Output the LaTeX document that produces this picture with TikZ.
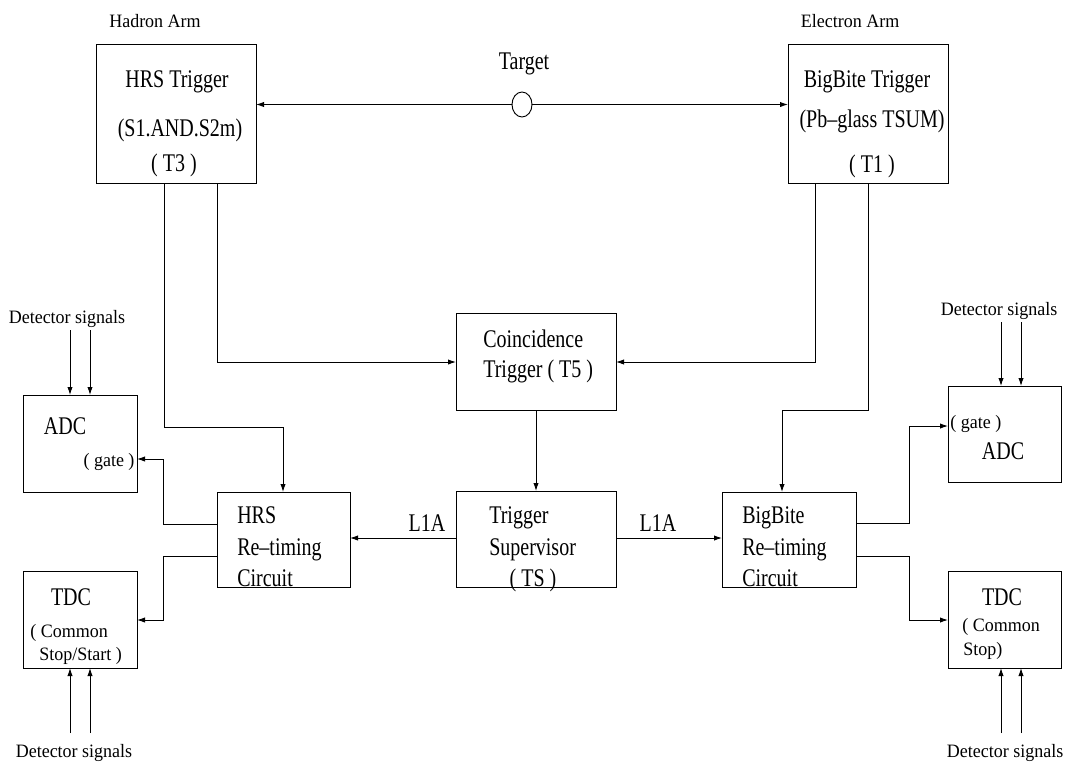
\documentclass[tikz,border=0pt]{standalone}
\usepackage{fontspec}
\setmainfont{Liberation Serif}
\usetikzlibrary{arrows.meta,shapes.geometric}
% tall labels inside the blocks, plain labels for the small notes
\newcommand{\tallt}[1]{\scalebox{1}[1.27]{#1}}
\newcommand{\smallt}[1]{\scalebox{1}[1.05]{#1}}
\tikzset{
  blk/.style={draw, rectangle, inner sep=0pt, outer sep=0pt, line width=0.7pt},
  lbl/.style={inner sep=0pt, anchor=base, font=\fontsize{15}{17}\selectfont},
  lbll/.style={lbl, anchor=base west},
  sml/.style={inner sep=0pt, anchor=base, font=\fontsize{13.5}{15}\selectfont},
  smll/.style={sml, anchor=base west},
  wire/.style={line width=0.7pt},
  arr/.style={wire, -{Latex[length=6pt,width=4pt]}}
}
\begin{document}
\begin{tikzpicture}[x=0.75pt,y=-0.75pt]
\useasboundingbox (0,0) rectangle (1067,765);
\fill[white] (0,0) rectangle (1067,765);

% ---- blocks ----
\node[blk, minimum width=120pt, minimum height=104.25pt] (hrsT) at (176,113.5) {};
\node[blk, minimum width=120pt, minimum height=104.25pt] (bbT) at (868,113.5) {};
\node[draw, ellipse, inner sep=0pt, outer sep=0pt, line width=0.7pt,
      minimum width=15pt, minimum height=18.75pt] (target) at (522,104.5) {};
\node[blk, minimum width=120pt, minimum height=72.75pt] (coin) at (536,361.5) {};
\node[blk, minimum width=120pt, minimum height=72pt] (ts) at (536,539) {};
\node[blk, minimum width=99.75pt, minimum height=71.25pt] (hrsR) at (283.5,539.5) {};
\node[blk, minimum width=100.5pt, minimum height=71.25pt] (bbR) at (789,539.5) {};
\node[blk, minimum width=85.5pt, minimum height=72.75pt] (adcL) at (80,443.5) {};
\node[blk, minimum width=85.5pt, minimum height=72.75pt] (tdcL) at (80,619.5) {};
\node[blk, minimum width=84.75pt, minimum height=72pt] (adcR) at (1004.5,434) {};
\node[blk, minimum width=84.75pt, minimum height=72.75pt] (tdcR) at (1004.5,619.5) {};

% ---- labels ----
\node[sml] (tHad) at (155,27) {\smallt{Hadron Arm}};
\node[sml] (tEle) at (850,27) {\smallt{Electron Arm}};
\node[lbl] (tTgt) at (524,69) {\tallt{Target}};

\node[lbl] (tH1) at (177,87) {\tallt{HRS Trigger}};
\node[lbl] (tH2) at (180,136) {\tallt{(S1.AND.S2m)}};
\node[lbl] (tH3) at (174,171) {\tallt{( T3 )}};

\node[lbl] (tB1) at (867,87) {\tallt{BigBite Trigger}};
\node[lbl] (tB2) at (872,127) {\tallt{(Pb–glass TSUM)}};
\node[lbl] (tB3) at (872,172) {\tallt{( T1 )}};

\node[lbll] (tC1) at (483,347) {\tallt{Coincidence}};
\node[lbll] (tC2) at (483,377) {\tallt{Trigger ( T5 )}};

\node[lbll] (tS1) at (489,523) {\tallt{Trigger}};
\node[lbll] (tS2) at (489,555) {\tallt{Supervisor}};
\node[lbl] (tS3) at (533,586) {\tallt{( TS )}};

\node[lbll] (tHR1) at (237,523) {\tallt{HRS}};
\node[lbll] (tHR2) at (237,555) {\tallt{Re–timing}};
\node[lbll] (tHR3) at (237,586) {\tallt{Circuit}};

\node[lbll] (tBR1) at (742,523) {\tallt{BigBite}};
\node[lbll] (tBR2) at (742,555) {\tallt{Re–timing}};
\node[lbll] (tBR3) at (742,586) {\tallt{Circuit}};

\node[lbl] (tL1) at (427,531) {\tallt{L1A}};
\node[lbl] (tL2) at (658,531) {\tallt{L1A}};

\node[lbl] (tAL) at (65,434) {\tallt{ADC}};
\node[sml] (tAL2) at (109,466) {\smallt{( gate )}};
\node[lbl] (tTL) at (71,605) {\tallt{TDC}};
\node[smll] (tTL2) at (30,637) {\smallt{( Common}};
\node[smll] (tTL3) at (39,660) {\smallt{Stop/Start )}};

\node[smll] (tAR2) at (950,428) {\smallt{( gate )}};
\node[lbl] (tAR) at (1003,459) {\tallt{ADC}};
\node[lbl] (tTR) at (1002,605) {\tallt{TDC}};
\node[smll] (tTR2) at (962,631) {\smallt{( Common}};
\node[smll] (tTR3) at (963,655) {\smallt{Stop)}};

\node[sml] (dsTL) at (67,323) {\smallt{Detector signals}};
\node[sml] (dsBL) at (74,757) {\smallt{Detector signals}};
\node[sml] (dsTR) at (999,315) {\smallt{Detector signals}};
\node[sml] (dsBR) at (1005,757) {\smallt{Detector signals}};

% ---- bend points and free ends ----
\coordinate (hA) at (164,427);
\coordinate (hB) at (283,427);
\coordinate (hC) at (217,362);
\coordinate (bC) at (815,362);
\coordinate (bA) at (868,410);
\coordinate (bB) at (782,410);
\coordinate (row) at (536,538);
\coordinate (hgo) at (163,524);
\coordinate (hg) at (163,459);
\coordinate (hto) at (163,556);
\coordinate (ht) at (163,620);
\coordinate (bgo) at (909,523);
\coordinate (bg) at (909,426);
\coordinate (bto) at (909,556);
\coordinate (bt) at (909,620);
\coordinate (dTL1) at (70,330);
\coordinate (dTL2) at (90,330);
\coordinate (dBL1) at (70,733);
\coordinate (dBL2) at (90,733);
\coordinate (dTR1) at (1001,322);
\coordinate (dTR2) at (1021,322);
\coordinate (dBR1) at (1001,733);
\coordinate (dBR2) at (1021,733);

% ---- connectors ----
\draw[arr] (target.west) -- (target.west -| hrsT.east);
\draw[arr] (target.east) -- (target.east -| bbT.west);

\draw[arr] (hrsT.south -| hA) -- (hA) -- (hB) -- (hB |- hrsR.north);
\draw[arr] (hrsT.south -| hC) -- (hC) -- (coin.west |- hC);
\draw[arr] (bbT.south -| bC) -- (bC) -- (coin.east |- bC);
\draw[arr] (bbT.south -| bA) -- (bA) -- (bB) -- (bB |- bbR.north);

\draw[arr] (coin.south) -- (ts.north);
\draw[arr] (ts.west |- row) -- (hrsR.east |- row);
\draw[arr] (ts.east |- row) -- (bbR.west |- row);

\draw[arr] (hgo -| hrsR.west) -- (hgo) -- (hg) -- (hg -| adcL.east);
\draw[arr] (hto -| hrsR.west) -- (hto) -- (ht) -- (ht -| tdcL.east);
\draw[arr] (bgo -| bbR.east) -- (bgo) -- (bg) -- (bg -| adcR.west);
\draw[arr] (bto -| bbR.east) -- (bto) -- (bt) -- (bt -| tdcR.west);

\draw[arr] (dTL1) -- (dTL1 |- adcL.north);
\draw[arr] (dTL2) -- (dTL2 |- adcL.north);
\draw[arr] (dBL1) -- (dBL1 |- tdcL.south);
\draw[arr] (dBL2) -- (dBL2 |- tdcL.south);
\draw[arr] (dTR1) -- (dTR1 |- adcR.north);
\draw[arr] (dTR2) -- (dTR2 |- adcR.north);
\draw[arr] (dBR1) -- (dBR1 |- tdcR.south);
\draw[arr] (dBR2) -- (dBR2 |- tdcR.south);
\end{tikzpicture}
\end{document}
